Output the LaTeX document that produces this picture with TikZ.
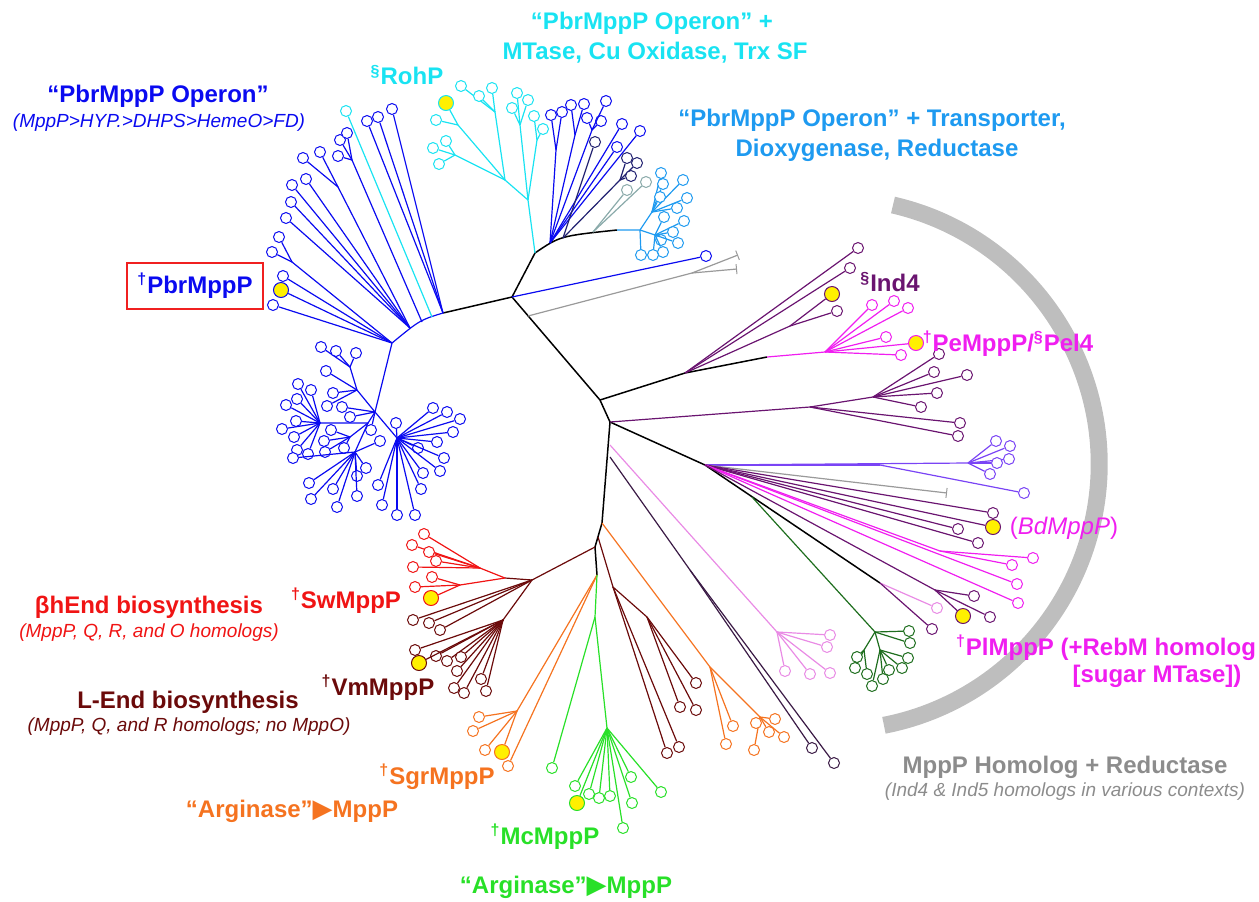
\documentclass[tikz,border=0pt]{standalone}
\usepackage{fontspec}
\setmainfont{Liberation Sans}
\newfontfamily\symfont{DejaVu Sans}
\usetikzlibrary{arrows.meta}

\definecolor{pbrblue}{HTML}{0A0AF0}
\definecolor{rohcyan}{HTML}{19E3F2}
\definecolor{lightblue}{HTML}{1E9AF0}
\definecolor{navy}{HTML}{202070}
\definecolor{teal}{HTML}{8AAAAA}
\definecolor{indpurple}{HTML}{6A1470}
\definecolor{pemag}{HTML}{F01EF0}
\definecolor{violet}{HTML}{7A44F5}
\definecolor{dkgreen}{HTML}{1E6E1E}
\definecolor{orchid}{HTML}{E98BE5}
\definecolor{dkpurple}{HTML}{3A1A45}
\definecolor{endred}{HTML}{F01414}
\definecolor{lend}{HTML}{6B0A0A}
\definecolor{argorange}{HTML}{F57320}
\definecolor{arggreen}{HTML}{28E028}
\definecolor{txtgray}{HTML}{8C8C8C}
\definecolor{arcgray}{HTML}{BEBEBE}
\definecolor{linegray}{HTML}{9A9A9A}
\definecolor{hityellow}{HTML}{FFF000}
\definecolor{boxred}{HTML}{F02020}

\tikzset{
      leaf/.style = {circle, draw, fill=white, inner sep=0pt,
                     minimum size=5.5pt, line width=0.5pt},
   hitleaf/.style = {circle, draw, fill=hityellow, inner sep=0pt,
                     minimum size=7.5pt, line width=0.5pt},
        br/.style = {line width=0.6pt, line join=round},
     trunk/.style = {br, black, line width=0.75pt},
    barend/.style = {br, linegray, -{Bar[width=5pt,line width=0.5pt]}},
     title/.style = {font=\fontsize{12}{14}\selectfont\bfseries, inner sep=0pt},
       sub/.style = {font=\fontsize{9.5}{11}\selectfont\itshape, inner sep=0pt},
        }

% leaves #3 hang from hub #2, drawn in colour #1
\newcommand\fan[3]{%
  \foreach \x/\y in {#3}{%
    \node[#1,leaf] (l-\x-\y) at (\x,\y) {};
    \draw[br,#1] (#2) -- (l-\x-\y);
  }}
\newcommand\argarrow{{\symfont\fontsize{13}{14}\selectfont ▶}}

\begin{document}
\begin{tikzpicture}[x=0.5pt,y=-0.5pt]
\useasboundingbox (0,0) rectangle (1259,901);

% grey bracket around the reductase group
\draw[arcgray, line width=8.5pt] (893,205) arc[start angle=77, end angle=-79, radius=133pt];

% backbone
\coordinate (rA) at (443,313);
\coordinate (rB) at (512,297);
\coordinate (rC) at (535,253);
\coordinate (rD) at (617,230);
\coordinate (rE) at (600,400);
\coordinate (rF) at (610,422);
\coordinate (rG) at (602,523);
\coordinate (rH) at (595,547);
\coordinate (rI) at (597,575);
\coordinate (rJ) at (705,465);
\coordinate (rK) at (880,583);
\coordinate (ind) at (685,373);
\coordinate (pel) at (767,357);
\draw[trunk] (rA) -- (rB) -- (rE) -- (rF) -- (rG) -- (rH) -- (rI);
\draw[trunk] (rB) -- (rC) .. controls (560,236) .. (rD);
\draw[trunk] (rE) -- (ind) -- (pel);
\draw[trunk] (rF) -- (rJ) -- (rK);

% PbrMppP clade, upper fan
\coordinate (b2) at (422,322);
\coordinate (b3) at (410,328);
\coordinate (b4) at (392,343);
\coordinate (b5) at (352,160);
\coordinate (b6) at (338,187);
\coordinate (b7) at (292,262);
\coordinate (bL) at (375,412);
\draw[br,pbrblue] (rA) .. controls (420,320) .. (b4) -- (bL);
\fan{pbrblue}{rA}{367/121,378/117,392/109}
\node[rohcyan,leaf] (rohA) at (346,111) {};
\draw[br,rohcyan] (432,317) -- (rohA);
\draw[br,pbrblue] (b2) -- (b5);
\fan{pbrblue}{b5}{338/156,340/140,347/133}
\draw[br,pbrblue] (b3) -- (b6);
\fan{pbrblue}{b6}{303/158,320/152}
\fan{pbrblue}{b3}{306/179,292/185,291/202,286/218}
\draw[br,pbrblue] (b4) -- (b7);
\fan{pbrblue}{b7}{279/237,272/252}
\fan{pbrblue}{b4}{283/276,273/305}
\node[hitleaf,draw=pbrblue] (hPbr) at (281,290) {};
\draw[br,pbrblue] (b4) -- (hPbr);

% PbrMppP clade, lower bush
\coordinate (bA1) at (350,367);
\coordinate (bA) at (357,390);
\coordinate (bM) at (368,423);
\coordinate (bB) at (320,423);
\coordinate (bC) at (350,437);
\coordinate (bD) at (355,452);
\coordinate (bE) at (397,438);
\draw[br,pbrblue] (bL) -- (bA) -- (bA1);
\draw[br,pbrblue] (bL) -- (bM) -- (bB);
\draw[br,pbrblue] (bM) -- (bC);
\draw[br,pbrblue] (bM) -- (bD);
\draw[br,pbrblue] (bL) -- (bE);
\fan{pbrblue}{bA1}{321/347,336/351,356/353}
\fan{pbrblue}{bA}{326/371,333/393,327/406}
\fan{pbrblue}{bL}{342/407,350/417,371/430}
\fan{pbrblue}{bB}{298/384,311/390,286/405,297/399,296/421,282/429,294/437,297/450,308/454}
\fan{pbrblue}{bC}{331/430,324/441,325/452,344/448}
\fan{pbrblue}{bD}{293/458,309/483,311/499,333/489,337/507,357/476,357/496,366/468,380/441}
\fan{pbrblue}{bE}{396/423,433/408,447/412,460/419,453/432,437/442,418/448,444/458,440/471,423/473,421/489,415/515,397/515,382/505,378/485}

% RohP clade
\coordinate (c0) at (528,200);
\coordinate (c6) at (505,180);
\coordinate (c1) at (520,125);
\coordinate (c2) at (537,140);
\coordinate (c3) at (495,112);
\coordinate (c4) at (458,125);
\coordinate (c5) at (455,155);
\draw[br,rohcyan] (rC) -- (c0) -- (c1);
\draw[br,rohcyan] (c0) -- (c2);
\draw[br,rohcyan] (c0) -- (c6) -- (c3);
\draw[br,rohcyan] (c6) -- (c4);
\draw[br,rohcyan] (c6) -- (c5);
\fan{rohcyan}{c1}{517/93,528/100,512/108}
\fan{rohcyan}{c2}{534/116,543/129}
\fan{rohcyan}{c3}{461/86,479/96,492/88}
\fan{rohcyan}{c4}{436/120}
\fan{rohcyan}{c5}{433/148,446/141,439/164}
\node[hitleaf,draw=rohcyan] (hRoh) at (446,103) {};
\draw[br,rohcyan] (c4) -- (hRoh);

% operon clades beside RohP
\coordinate (p0) at (550,243);
\coordinate (p1) at (556,150);
\coordinate (p2) at (575,135);
\coordinate (p3) at (592,130);
\coordinate (n0) at (563,238);
\coordinate (n1) at (620,180);
\coordinate (t0) at (593,232);
\coordinate (lb0) at (640,230);
\coordinate (lb1) at (652,212);
\coordinate (lb2) at (655,235);
\draw[br,pbrblue] (p0) -- (p1);
\draw[br,pbrblue] (p0) -- (p2);
\draw[br,pbrblue] (p0) -- (p3);
\fan{pbrblue}{p1}{551/115,562/112}
\fan{pbrblue}{p2}{571/105,584/104}
\fan{pbrblue}{p3}{587/118,601/121,606/101}
\fan{pbrblue}{p0}{622/124,640/131,617/147}
\draw[br,navy] (n0) -- (n1);
\fan{navy}{n0}{595/142}
\fan{navy}{n1}{627/158,637/163,631/176}
\fan{teal}{t0}{646/182,627/190}
\draw[br,lightblue] (rD) -- (lb0) -- (lb1);
\draw[br,lightblue] (lb0) -- (lb2);
\fan{lightblue}{lb1}{661/173,683/180,663/184,687/198,660/197,677/208}
\fan{lightblue}{lb2}{664/217,684/221,673/232,661/240,678/243,663/252,653/255}
\fan{lightblue}{lb0}{641/255}

% long single branches
\fan{pbrblue}{rB}{706/256}
\coordinate (g0) at (528,316);
\coordinate (g1) at (692,273);
\coordinate (gA) at (737,269);
\coordinate (gB) at (738,255);
\draw[br,linegray] (g0) -- (g1);
\draw[barend] (g1) -- (gA);
\draw[barend] (g1) -- (gB);

% Ind4 and PeMppP clades
\coordinate (i1) at (790,326);
\coordinate (pe1) at (825,352);
\draw[br,indpurple] (ind) -- (i1);
\fan{indpurple}{ind}{858/248,850/268}
\fan{indpurple}{i1}{837/311}
\node[hitleaf,draw=indpurple] (hInd) at (832,294) {};
\draw[br,indpurple] (i1) -- (hInd);
\draw[br,pemag] (pel) -- (pe1);
\fan{pemag}{pe1}{872/305,894/301,908/308,886/337,901/355}
\node[hitleaf,draw=pemag] (hPe) at (916,343) {};
\draw[br,pemag] (pe1) -- (hPe);

\coordinate (u1) at (810,407);
\coordinate (u2) at (873,397);
\draw[br,indpurple] (rF) -- (u1) -- (u2);
\fan{indpurple}{u2}{939/354,934/372,967/375,937/393,921/407}
\fan{indpurple}{u1}{960/423,958/436}

% reductase group
\coordinate (v1) at (968,463);
\coordinate (v2) at (880,465);
\coordinate (m2) at (940,551);
\coordinate (u3) at (935,590);
\coordinate (k0) at (610,445);
\coordinate (k1) at (777,632);
\coordinate (d0) at (610,457);
\coordinate (d1) at (690,570);
\coordinate (e0) at (752,497);
\coordinate (e1) at (875,632);
\coordinate (e2) at (880,650);
\coordinate (e3) at (864,650);
\draw[br,violet] (rJ) -- (v1);
\draw[br,violet] (rJ) -- (v2);
\fan{violet}{v1}{996/441,1010/446,1009/459,997/463,990/474}
\fan{violet}{v2}{1024/493}
\draw[barend] (rJ) -- (947,493);
\fan{indpurple}{rJ}{993/513,958/529,978/543}
\node[hitleaf,draw=indpurple] (hBd) at (993,527) {};
\draw[br,indpurple] (rJ) -- (hBd);
\draw[br,pemag] (rJ) -- (m2);
\fan{pemag}{m2}{1033/558,1012/565}
\fan{pemag}{rJ}{1017/584,1018/603}
\fan{orchid}{rK}{937/608}
\fan{indpurple}{rK}{932/629}
\draw[br,indpurple] (rJ) -- (u3);
\fan{indpurple}{u3}{974/596,990/617}
\node[hitleaf,draw=indpurple] (hPl) at (963,616) {};
\draw[br,indpurple] (u3) -- (hPl);
\draw[br,dkgreen] (e0) -- (e1) -- (e2);
\draw[br,dkgreen] (e1) -- (e3);
\fan{dkgreen}{e1}{909/631,910/643}
\fan{dkgreen}{e2}{908/658,902/668,889/670,883/679,872/686}
\fan{dkgreen}{e3}{867/674,855/668,857/657}
\draw[br,orchid] (k0) -- (k1);
\fan{orchid}{k1}{830/635,827/647,785/671,810/674,830/673}
\draw[br,dkpurple] (d0) -- (d1);
\fan{dkpurple}{d1}{812/748,834/763}

% lower clades
\coordinate (o1) at (710,667);
\coordinate (o2) at (760,717);
\coordinate (w0) at (598,537);
\coordinate (w1) at (613,587);
\coordinate (w2) at (647,617);
\coordinate (vm) at (532,580);
\coordinate (r0) at (505,578);
\coordinate (r1) at (480,568);
\coordinate (r2) at (460,585);
\coordinate (l1) at (503,620);
\coordinate (o3) at (517,711);
\coordinate (q0) at (595,617);
\coordinate (q1) at (607,728);
\draw[br,argorange] (rG) -- (o1) -- (o2);
\fan{argorange}{o1}{726/744,733/726}
\fan{argorange}{o2}{754/750,756/723,775/719,769/732,784/737}
\draw[br,lend] (w0) -- (w1) -- (w2);
\fan{lend}{w2}{696/683,680/707,696/710}
\fan{lend}{w1}{679/747,667/753}
\draw[br,lend] (rH) -- (vm) -- (r0);
\draw[br,endred] (r0) -- (r1);
\draw[br,endred] (r0) -- (r2);
\fan{endred}{r1}{424/534,412/545,429/552,436/561,413/567}
\fan{endred}{r2}{432/577,415/587}
\node[hitleaf,draw=endred] (hSw) at (431,598) {};
\draw[br,endred] (r2) -- (hSw);
\draw[br,lend] (vm) -- (l1);
\fan{lend}{vm}{413/620,429/623,440/630}
\fan{lend}{l1}{415/650,436/656,447/661,461/657,457/671,454/688,464/693,481/679,486/691}
\node[hitleaf,draw=lend] (hVm) at (419,663) {};
\draw[br,lend] (l1) -- (hVm);
\draw[br,argorange] (rI) -- (o3);
\fan{argorange}{o3}{479/717,473/731,485/750}
\fan{argorange}{rI}{508/766}
\node[hitleaf,draw=argorange] (hSgr) at (502,752) {};
\draw[br,argorange] (o3) -- (hSgr);
\draw[br,arggreen] (rI) -- (q0) -- (q1);
\fan{arggreen}{q0}{552/768}
\fan{arggreen}{q1}{575/786,589/794,599/798,610/796,631/777,632/803,661/792,623/828}
\node[hitleaf,draw=arggreen] (hMc) at (577,803) {};
\draw[br,arggreen] (q1) -- (hMc);

% labels
\node[title,pbrblue] (opA) at (158,96) {“PbrMppP Operon”};
\node[sub,pbrblue] (opAs) at (159,123) {(MppP>HYP.>DHPS>HemeO>FD)};
\node[title,rohcyan] (opB1) at (652,23) {“PbrMppP Operon” +};
\node[title,rohcyan] (opB2) at (655,53) {MTase, Cu Oxidase, Trx SF};
\node[title,rohcyan] (rohp) at (407,75) {\textsuperscript{§}RohP};
\node[title,lightblue] (opC1) at (872,120) {“PbrMppP Operon” + Transporter,};
\node[title,lightblue] (opC2) at (877,150) {Dioxygenase, Reductase};
\node[title,pbrblue,draw=boxred,line width=0.8pt,minimum width=68pt,minimum height=23pt] (pbr) at (195,286) {\textsuperscript{†}PbrMppP};
\node[title,indpurple] (ind4) at (890,282) {\textsuperscript{§}Ind4};
\node[title,pemag] (pe) at (1008,344) {\textsuperscript{†}PeMppP/\textsuperscript{§}Pel4};
\node[pemag,inner sep=0pt,font=\fontsize{12}{14}\selectfont] (bd) at (1064,528) {(\textit{BdMppP})};
\node[title,pemag] (pl1) at (1106,648) {\textsuperscript{†}PlMppP (+RebM homolog};
\node[title,pemag] (pl2) at (1157,676) {[sugar MTase])};
\node[title,txtgray] (red1) at (1065,767) {MppP Homolog + Reductase};
\node[sub,txtgray] (red2) at (1065,792) {(Ind4 \& Ind5 homologs in various contexts)};
\node[title,endred] (bh1) at (149,607) {βhEnd biosynthesis};
\node[sub,endred] (bh2) at (149,633) {(MppP, Q, R, and O homologs)};
\node[title,endred] (sw) at (346,601) {\textsuperscript{†}SwMppP};
\node[title,lend] (le1) at (188,702) {L-End biosynthesis};
\node[sub,lend] (le2) at (189,727) {(MppP, Q, and R homologs; no MppO)};
\node[title,lend] (vmt) at (378,688) {\textsuperscript{†}VmMppP};
\node[title,argorange] (sgr) at (437,777) {\textsuperscript{†}SgrMppP};
\node[title,argorange] (argA) at (292,811) {“Arginase”\argarrow MppP};
\node[title,arggreen] (mc) at (545,837) {\textsuperscript{†}McMppP};
\node[title,arggreen] (argB) at (566,887) {“Arginase”\argarrow MppP};
\end{tikzpicture}
\end{document}
